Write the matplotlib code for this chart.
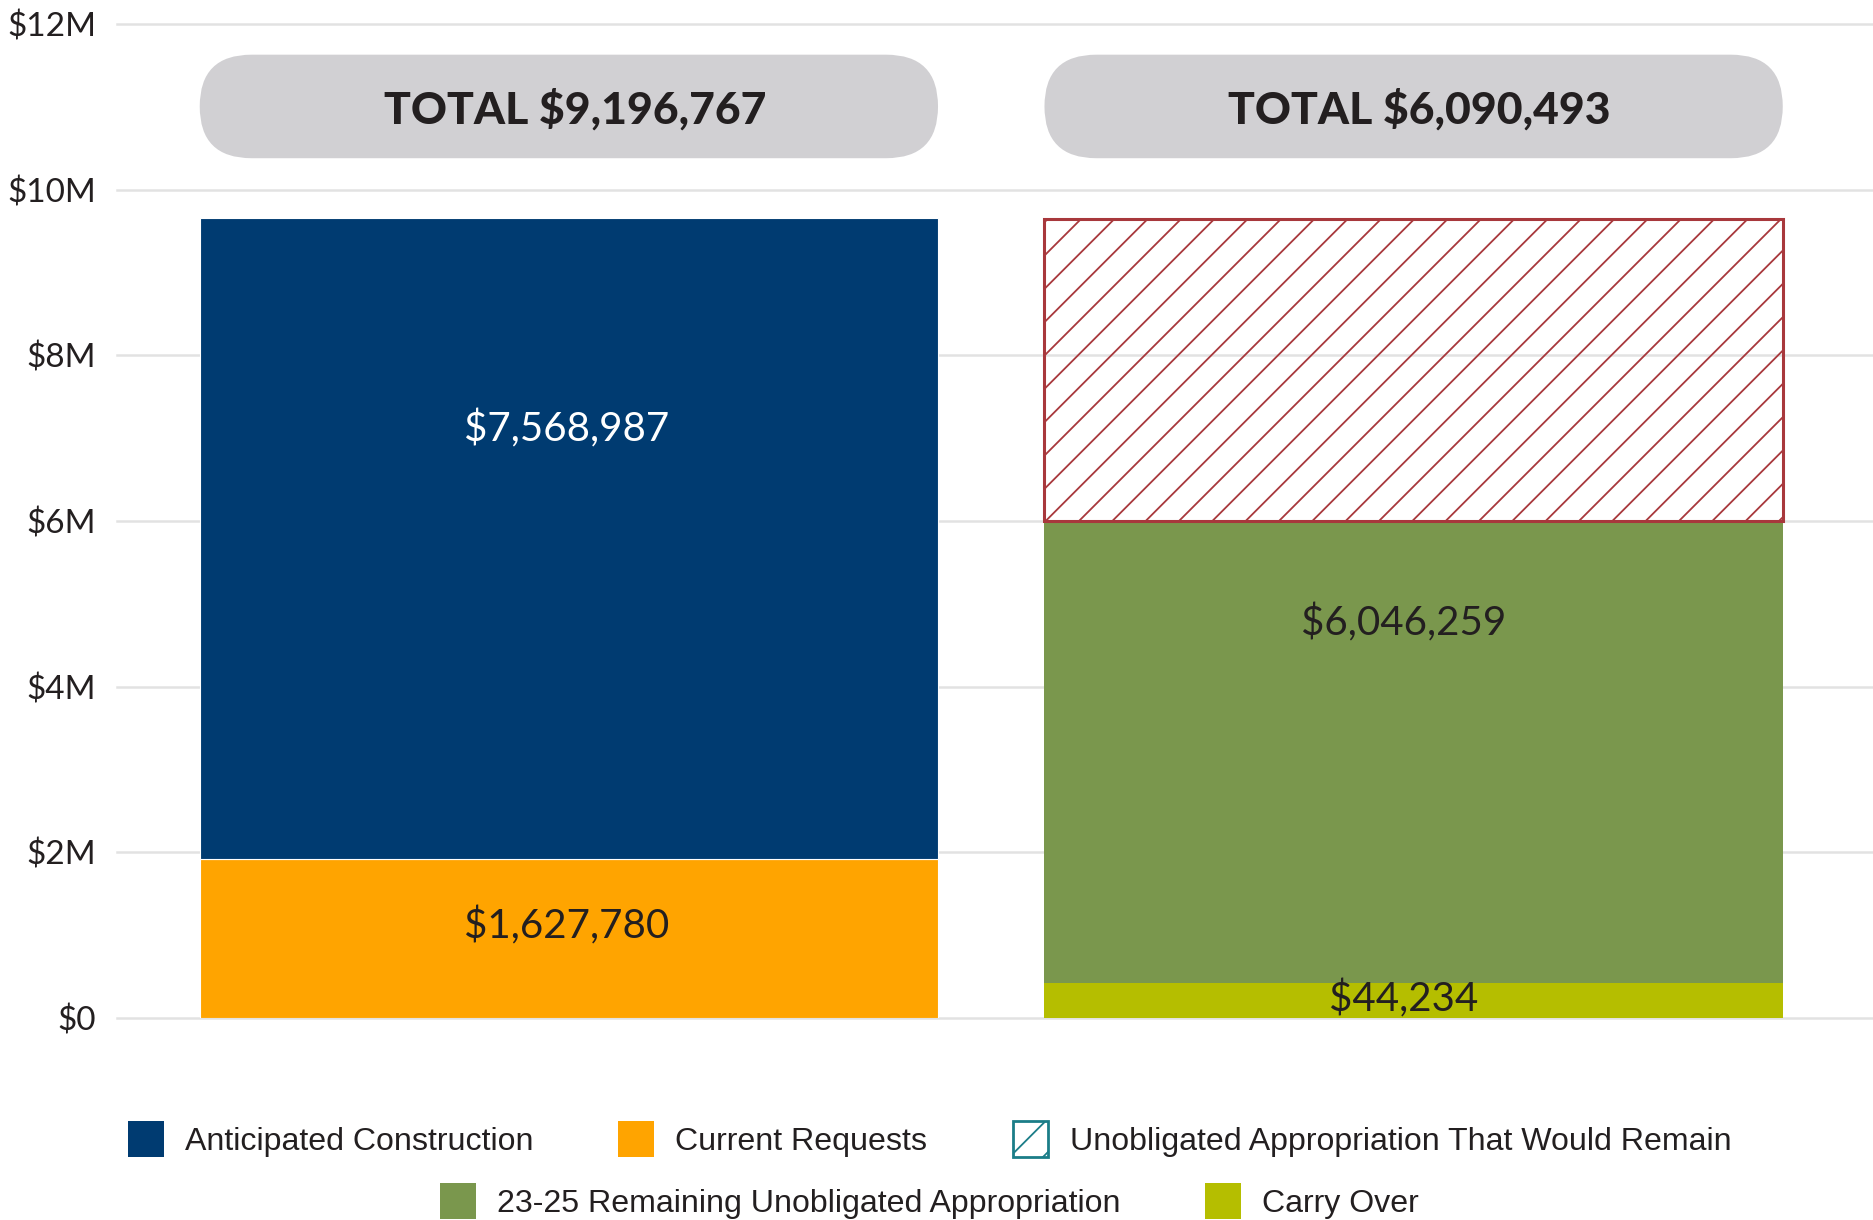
import matplotlib.pyplot as plt
from matplotlib.patches import FancyBboxPatch, Patch

# ---- data (segment heights in $M, as drawn in the chart) ----
bar_pos = [0, 1]
totals = ["TOTAL $9,196,767", "TOTAL $6,090,493"]

left_series = ["Current Requests", "Anticipated Construction"]
left_heights = [1.92, 7.74]
left_labels = ["$1,627,780", "$7,568,987"]

right_series = ["Carry Over", "23-25 Remaining Unobligated Appropriation",
                "Unobligated Appropriation That Would Remain"]
right_heights = [0.42, 5.58, 3.65]
right_labels = ["$44,234", "$6,046,259", ""]

y_ticks = [0, 2, 4, 6, 8, 10, 12]
y_ticklabels = ["$0", "$2M", "$4M", "$6M", "$8M", "$10M", "$12M"]

# ---- styles ----
colors = {
    "Anticipated Construction": "#003b71",
    "Current Requests": "#ffa400",
    "Unobligated Appropriation That Would Remain": "#a8383c",
    "23-25 Remaining Unobligated Appropriation": "#7a974d",
    "Carry Over": "#b5be00",
}
txt = "#231f20"
num_font = "Lato"
leg_font = "Liberation Sans"

plt.rcParams["hatch.linewidth"] = 1.3

fig = plt.figure(figsize=(18.74, 12.2), dpi=100)
ax = fig.add_axes([0.0624, 0.1656, 0.9376, 0.8147])
ax.set_xlim(-0.535, 1.545)
ax.set_ylim(0, 12)

bw = 0.874

# left stacked bar
bottom = 0
lab_frac_left = [0.58, 0.67]
for name, h, lab, fr in zip(left_series, left_heights, left_labels, lab_frac_left):
    ax.bar(bar_pos[0], h, bottom=bottom, width=bw, color=colors[name],
           edgecolor="white", linewidth=0.8, zorder=2)
    c = "white" if name == "Anticipated Construction" else txt
    ax.text(bar_pos[0] - 0.003, bottom + fr * h, lab, ha="center", va="center",
            fontsize=29, color=c, family=num_font, zorder=4)
    bottom += h

# right stacked bar
bottom = 0
lab_frac_right = [0.55, 0.78, 0.5]
for name, h, lab, fr in zip(right_series, right_heights, right_labels, lab_frac_right):
    if name == "Unobligated Appropriation That Would Remain":
        ax.bar(bar_pos[1], h, bottom=bottom, width=bw, facecolor="none",
               edgecolor=colors[name], hatch="/", linewidth=2.2, zorder=2)
    else:
        ax.bar(bar_pos[1], h, bottom=bottom, width=bw, color=colors[name],
               linewidth=0, zorder=2)
    if lab:
        ax.text(bar_pos[1] - 0.012, bottom + fr * h, lab, ha="center", va="center",
                fontsize=29, color=txt, family=num_font, zorder=4)
    bottom += h

# total pills above bars
sx = ax.transData.transform((1, 0))[0] - ax.transData.transform((0, 0))[0]
sy = ax.transData.transform((0, 1))[1] - ax.transData.transform((0, 0))[1]
pill_lo, pill_h = 10.38, 1.25
rad = pill_h * sy / 2 / sx
for x, t in zip(bar_pos, totals):
    p = FancyBboxPatch((x - bw / 2, pill_lo), bw, pill_h,
                       boxstyle=f"round,pad=0,rounding_size={rad}",
                       mutation_aspect=sx / sy, facecolor="#d1d0d3",
                       edgecolor="none", zorder=2)
    ax.add_patch(p)
    ax.text(x + 0.007, pill_lo + pill_h / 2 - 0.03, t, ha="center", va="center",
            fontsize=32, fontweight="black", color=txt, family=num_font, zorder=3)

# axes styling
ax.set_yticks(y_ticks)
ax.set_yticklabels(y_ticklabels, family=num_font, fontsize=24, color=txt)
ax.tick_params(axis="y", length=0, pad=15)
ax.set_xticks([])
ax.grid(axis="y", color="#e2e2e2", linewidth=1.8, zorder=0)
ax.set_axisbelow(True)
for gl in ax.get_ygridlines():
    gl.set_clip_on(False)
for s in ax.spines.values():
    s.set_visible(False)

# legend, two centred rows
row1 = ["Anticipated Construction", "Current Requests",
        "Unobligated Appropriation That Would Remain"]
row2 = ["23-25 Remaining Unobligated Appropriation", "Carry Over"]


def handle(name):
    if name == "Unobligated Appropriation That Would Remain":
        return Patch(facecolor="white", edgecolor="#1b7d88", hatch="/",
                     linewidth=2, label=name)
    return Patch(facecolor=colors[name], edgecolor="none", label=name)


leg_kw = dict(frameon=False, handlelength=1.12, handleheight=1.32,
              handletextpad=0.66, columnspacing=2.65, borderpad=0, borderaxespad=0,
              prop={"family": leg_font, "size": 23.1}, labelcolor=txt)
fig.legend(handles=[handle(n) for n in row1], ncol=3, loc="center",
           bbox_to_anchor=(0.496, 0.0664), **leg_kw)
fig.legend(handles=[handle(n) for n in row2], ncol=2, loc="center",
           bbox_to_anchor=(0.496, 0.0156), **leg_kw)

fig.savefig("out.png", dpi=100)
